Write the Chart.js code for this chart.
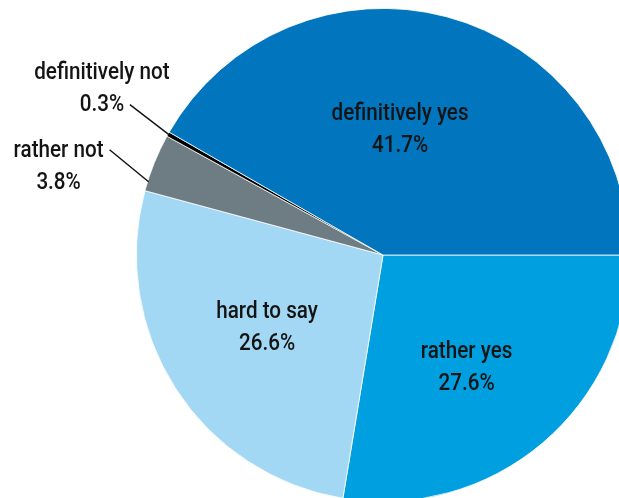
<!DOCTYPE html>
<html><head><meta charset="utf-8">
<script src="https://cdn.jsdelivr.net/npm/chart.js@4/dist/chart.umd.min.js"></script>
<style>
html,body{margin:0;padding:0;background:#fff;overflow:hidden;width:619px;height:498px;}
#wrap{position:absolute;left:0;top:0;width:766px;height:510px;}
</style></head>
<body>
<div id="wrap"><canvas id="c" width="766" height="510"></canvas></div>
<script>
const categories = ["rather yes", "hard to say", "rather not", "definitively not", "definitively yes"];
const values = [27.6, 26.6, 3.8, 0.3, 41.7];
const valueLabels = ["27.6%", "26.6%", "3.8%", "0.3%", "41.7%"];
const colors = ["#009FE0", "#A3D8F5", "#6E7D83", "#000000", "#0175BD"];
const outside = [false, false, true, true, false];
// label placement styling (offsets in px / degrees)
const labelStyle = [
  {frac: 0.53, dx: -1, dy: 13},
  {frac: 0.53, dx: -6, dy: 2},
  {dAng: -4.6, lx: -39, ly: -32, tx: -51, ty: 17},
  {dAng: 0, lx: -39, ly: -30, tx: -28, ty: -16},
  {frac: 0.52, dx: -16, dy: -1}
];

function drawText(ctx, txt, x, y) {
  const sx = 0.86;
  ctx.save();
  ctx.translate(x, y);
  ctx.scale(sx, 1);
  ctx.fillText(txt, 0, 0);
  ctx.restore();
}

const labelPlugin = {
  id: 'labels',
  afterDatasetsDraw(chart) {
    const ctx = chart.ctx;
    const meta = chart.getDatasetMeta(0);
    ctx.save();
    ctx.font = '500 24px Roboto';
    ctx.fillStyle = '#141414';
    ctx.textAlign = 'center';
    ctx.textBaseline = 'middle';
    meta.data.forEach((arc, i) => {
      const p = arc.getProps(['x','y','startAngle','endAngle','outerRadius'], true);
      const mid = (p.startAngle + p.endAngle) / 2;
      const st = labelStyle[i];
      let cx, cy;
      if (!outside[i]) {
        cx = p.x + Math.cos(mid) * p.outerRadius * st.frac + st.dx;
        cy = p.y + Math.sin(mid) * p.outerRadius * st.frac + st.dy;
      } else {
        const a = mid + st.dAng * Math.PI / 180;
        const sx = p.x + Math.cos(a) * (p.outerRadius - 1);
        const sy = p.y + Math.sin(a) * (p.outerRadius - 1);
        const ex = sx + st.lx, ey = sy + st.ly;
        ctx.beginPath();
        ctx.moveTo(sx, sy);
        ctx.lineTo(ex, ey);
        ctx.lineWidth = 1.4;
        ctx.strokeStyle = '#111';
        ctx.stroke();
        cx = ex + st.tx; cy = ey + st.ty;
      }
      drawText(ctx, categories[i], cx, cy - 16);
      drawText(ctx, valueLabels[i], cx, cy + 16);
    });
    ctx.restore();
  }
};

new Chart(document.getElementById('c'), {
  type: 'pie',
  data: {
    labels: categories,
    datasets: [{
      data: values,
      backgroundColor: colors,
      borderColor: '#ffffff',
      borderWidth: 0.8
    }]
  },
  options: {
    responsive: false,
    animation: false,
    rotation: 90,
    layout: {padding: 8},
    plugins: {legend: {display: false}, tooltip: {enabled: false}}
  },
  plugins: [labelPlugin]
});
</script>
</body></html>
